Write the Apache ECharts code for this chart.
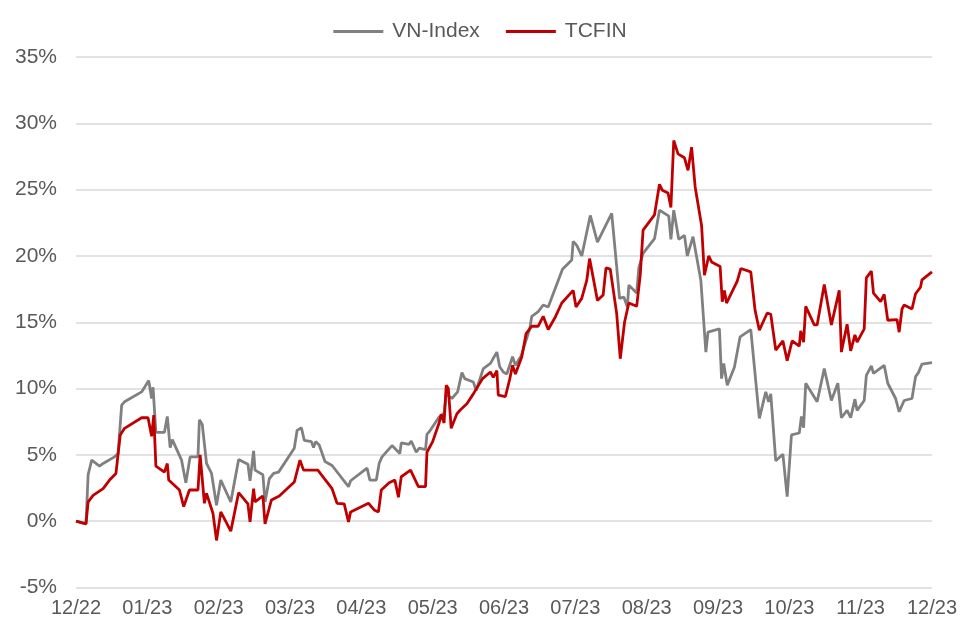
<!DOCTYPE html>
<html>
<head>
<meta charset="utf-8">
<script src="https://cdn.jsdelivr.net/npm/echarts@6/dist/echarts.min.js"></script>
<style>html,body{margin:0;padding:0;background:#fff}#c{width:960px;height:624px}</style>
</head>
<body>
<div id="c"></div>
<script>
// x positions in months since 12/22
var monthLabels = ["12/22","01/23","02/23","03/23","04/23","05/23","06/23","07/23","08/23","09/23","10/23","11/23","12/23"];
var yTicks = [-5,0,5,10,15,20,25,30,35];

var vnT = [0,0.14,0.17,0.22,0.33,0.38,0.54,0.59,0.64,0.68,0.92,1.02,1.06,1.08,1.12,1.24,1.28,1.32,1.35,1.48,1.54,1.60,1.71,1.73,1.77,1.83,1.90,1.97,2.03,2.17,2.28,2.41,2.44,2.49,2.51,2.62,2.65,2.71,2.77,2.84,3.06,3.10,3.16,3.20,3.30,3.33,3.36,3.41,3.49,3.59,3.82,3.85,4.08,4.12,4.21,4.25,4.29,4.43,4.54,4.56,4.67,4.70,4.77,4.81,4.90,4.92,4.96,5.09,5.16,5.19,5.27,5.35,5.41,5.45,5.57,5.61,5.71,5.81,5.90,5.94,5.99,6.04,6.12,6.16,6.24,6.36,6.39,6.48,6.55,6.62,6.82,6.95,6.97,7.02,7.09,7.21,7.31,7.44,7.51,7.58,7.62,7.68,7.73,7.75,7.86,7.89,7.95,8.11,8.18,8.31,8.34,8.38,8.45,8.53,8.57,8.65,8.76,8.83,8.86,9.02,9.05,9.08,9.13,9.23,9.31,9.46,9.58,9.67,9.71,9.74,9.81,9.91,9.97,10.03,10.14,10.17,10.20,10.23,10.39,10.49,10.59,10.68,10.73,10.81,10.86,10.92,10.95,11.05,11.08,11.15,11.18,11.33,11.38,11.49,11.54,11.61,11.72,11.77,11.81,11.86,12.0];
var vnV = [0,-0.2,3.5,4.6,4.15,4.35,4.85,5.1,8.75,9.0,9.75,10.6,9.25,10.1,6.7,6.7,7.9,5.55,6.15,4.6,2.9,4.85,4.85,7.65,7.3,4.35,3.6,1.2,3.1,1.45,4.65,4.3,3.05,5.3,3.85,3.5,1.45,3.2,3.6,3.7,5.5,6.85,7.05,6.1,6.0,5.55,6.0,5.75,4.5,4.2,2.6,3.05,4.0,3.1,3.1,4.35,4.85,5.7,5.1,5.9,5.8,6.05,5.2,5.5,5.4,6.55,6.8,7.85,8.15,9.6,9.25,9.75,11.2,10.75,10.5,9.85,11.5,11.9,12.75,11.65,11.25,11.1,12.4,11.75,12.45,14.5,15.45,15.8,16.3,16.15,19.0,19.7,21.1,20.8,20.0,23.05,21.05,22.45,23.2,19.2,16.8,16.9,16.15,17.8,17.2,19.1,20.2,21.3,23.45,23.0,21.25,23.45,21.25,21.55,20.0,21.45,18.15,12.75,14.25,14.5,10.75,11.9,10.25,11.6,13.9,14.45,7.75,9.75,9.0,9.6,4.55,5.05,1.85,6.5,6.65,7.9,7.05,10.4,9.0,11.5,9.1,10.4,7.8,8.35,7.8,9.2,8.35,9.1,11.0,11.7,11.15,11.75,10.4,9.25,8.25,9.1,9.25,10.9,11.2,11.85,11.95];

var tcT = [0,0.14,0.17,0.24,0.38,0.47,0.56,0.62,0.68,0.92,1.01,1.06,1.09,1.12,1.24,1.28,1.30,1.45,1.51,1.59,1.71,1.74,1.80,1.83,1.92,1.97,2.03,2.17,2.28,2.41,2.44,2.49,2.51,2.62,2.65,2.74,2.85,3.06,3.14,3.19,3.39,3.41,3.59,3.66,3.76,3.82,3.85,4.10,4.18,4.24,4.28,4.39,4.47,4.52,4.56,4.69,4.80,4.90,4.92,5.00,5.09,5.12,5.16,5.19,5.22,5.26,5.34,5.39,5.48,5.57,5.70,5.81,5.85,5.90,5.92,6.02,6.08,6.12,6.16,6.25,6.31,6.39,6.48,6.55,6.62,6.72,6.81,6.97,7.01,7.09,7.16,7.20,7.31,7.39,7.43,7.49,7.58,7.63,7.69,7.75,7.86,7.91,7.95,8.11,8.18,8.22,8.30,8.34,8.38,8.44,8.53,8.58,8.63,8.68,8.77,8.81,8.87,8.91,9.03,9.06,9.09,9.12,9.27,9.32,9.46,9.52,9.58,9.69,9.74,9.81,9.91,9.97,10.04,10.14,10.16,10.20,10.23,10.35,10.39,10.49,10.59,10.70,10.73,10.81,10.86,10.92,10.95,11.05,11.08,11.15,11.18,11.28,11.33,11.38,11.51,11.54,11.58,11.61,11.72,11.77,11.84,11.86,12.0];
var tcV = [0,-0.2,1.45,1.95,2.45,3.1,3.6,6.5,7.0,7.8,7.8,6.4,8.0,4.15,3.7,4.35,3.1,2.35,1.1,2.35,2.35,5.0,1.35,2.1,0.6,-1.45,0.7,-0.75,2.15,1.3,-0.05,2.45,1.45,1.9,-0.2,1.6,1.9,2.95,4.6,3.85,3.85,3.7,2.45,1.35,1.3,-0.05,0.7,1.35,0.85,0.7,2.35,2.9,3.1,1.8,3.35,3.85,2.6,2.6,5.2,6.0,7.4,8.05,7.4,10.25,10.0,7.0,8.1,8.4,8.85,9.6,10.75,11.25,10.85,11.35,9.5,9.4,10.7,11.75,11.1,12.4,14.15,14.7,14.7,15.45,14.45,15.4,16.45,17.4,16.15,16.8,18.15,19.8,16.65,17.05,19.1,19.0,15.65,12.25,15.0,16.45,16.2,18.55,21.95,23.1,25.4,24.95,24.75,23.65,28.7,27.7,27.4,26.45,28.2,25.2,22.3,18.55,20.0,19.55,19.2,16.55,17.4,16.45,18.1,19.05,18.8,15.9,14.4,15.7,15.6,12.9,13.6,12.1,13.6,13.2,14.35,13.5,16.2,14.8,14.8,17.85,14.8,17.4,12.75,14.85,12.85,14.05,13.5,14.5,18.35,18.85,17.2,16.55,17.1,15.15,15.2,14.25,16.0,16.3,16.0,17.15,17.65,18.2,18.8];

function pairs(t, v) { return t.map(function (x, i) { return [x, v[i]]; }); }

var chart = echarts.init(document.getElementById('c'), null, {renderer: 'canvas'});
var fontFam = 'Liberation Sans, Arial, sans-serif';
chart.setOption({
  animation: false,
  backgroundColor: '#ffffff',
  legend: {
    top: 16,
    left: 'center',
    itemWidth: 50,
    itemHeight: 3,
    itemGap: 26,
    icon: 'rect',
    textStyle: {color: '#595959', fontSize: 21, fontFamily: fontFam, padding: [0, 0, 0, 4]},
    data: ['VN-Index', 'TCFIN']
  },
  grid: {left: 76, right: 24, top: 57, bottom: 36.5, containLabel: false},
  xAxis: {
    type: 'value', min: 0, max: 12, interval: 1,
    axisLine: {show: false}, axisTick: {show: false}, splitLine: {show: false},
    axisLabel: {
      color: '#595959', fontSize: 20, fontFamily: fontFam, margin: 11,
      formatter: function (v) { return monthLabels[Math.round(v)] || ''; }
    }
  },
  yAxis: {
    type: 'value', min: yTicks[0], max: yTicks[yTicks.length - 1], interval: 5,
    axisLine: {show: false}, axisTick: {show: false},
    splitLine: {lineStyle: {color: '#d9d9d9', width: 1.5}},
    axisLabel: {color: '#595959', fontSize: 21, fontFamily: fontFam, margin: 19,
      formatter: function (v) { return v + '%'; }}
  },
  series: [
    {name: 'VN-Index', type: 'line', data: pairs(vnT, vnV), symbol: 'none',
      lineStyle: {color: '#808080', width: 2.8}, itemStyle: {color: '#808080'}},
    {name: 'TCFIN', type: 'line', data: pairs(tcT, tcV), symbol: 'none',
      lineStyle: {color: '#c00000', width: 2.8}, itemStyle: {color: '#c00000'}}
  ]
});
</script>
</body>
</html>
